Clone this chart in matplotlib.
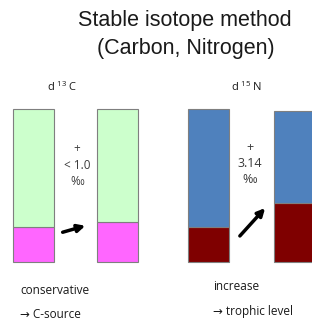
import matplotlib.pyplot as plt

# composition of each bar: lower (light isotope marker) fraction of total height
labels = ['d13C before', 'd13C after', 'd15N before', 'd15N after']
lower_frac = [0.23, 0.26, 0.23, 0.39]
upper_col = ['#ccffcc', '#ccffcc', '#4f81bd', '#4f81bd']
lower_col = ['#ff66ff', '#ff66ff', '#7f0000', '#7f0000']
shift_text = ['+\n< 1.0\n‰', '+\n3.14\n‰']
head_text = ['d $^{13}$ C', 'd $^{15}$ N']
note_text = [['conservative', '→ C-source'], ['increase', '→ trophic level']]

plt.rcParams['font.family'] = ['Open Sans', 'DejaVu Sans']
plt.rcParams['mathtext.fontset'] = 'custom'
plt.rcParams['mathtext.rm'] = 'Open Sans'

fig = plt.figure(figsize=(3.12, 3.22), dpi=100)
ax = fig.add_axes([0, 0, 1, 1])
ax.set_xlim(0, 312)
ax.set_ylim(0, 322)
ax.axis('off')

# bar geometry (pixel space, y up)
xs = [33.5, 117, 208.5, 294]
bottoms = [60, 60, 60, 60]
heights = [153, 153, 153, 151]
w = 41

for i in range(4):
    lo = heights[i] * lower_frac[i]
    ax.bar(xs[i], lo, w, bottom=bottoms[i], color=lower_col[i],
           edgecolor='#7f7f7f', lw=0.8)
    ax.bar(xs[i], heights[i] - lo, w, bottom=bottoms[i] + lo, color=upper_col[i],
           edgecolor='#7f7f7f', lw=0.8)

# arrows between bars
ax.annotate('', xy=(88, 97), xytext=(60, 89),
            arrowprops=dict(arrowstyle='-|>', color='black', lw=2.5, mutation_scale=11))
ax.annotate('', xy=(267, 116), xytext=(238, 84),
            arrowprops=dict(arrowstyle='-|>', color='black', lw=2.5, mutation_scale=11))

# shift labels
ax.text(77, 157, shift_text[0], ha='center', va='center', fontsize=8.5, color='#3a3a3a',
        linespacing=1.35)
ax.text(250, 159, shift_text[1], ha='center', va='center', fontsize=9, color='#3a3a3a',
        linespacing=1.3)

# title
ax.text(185, 302, 'Stable isotope method', ha='center', va='center', fontsize=15.5,
        family=['Liberation Sans', 'DejaVu Sans'], color='#1a1a1a')
ax.text(186, 274, '(Carbon, Nitrogen)', ha='center', va='center', fontsize=15.5,
        family=['Liberation Sans', 'DejaVu Sans'], color='#1a1a1a')

# isotope headings
ax.text(62, 235, head_text[0], ha='center', va='center', fontsize=8, color='#1a1a1a')
ax.text(247, 235, head_text[1], ha='center', va='center', fontsize=8, color='#1a1a1a')

# notes
ax.text(20, 31, note_text[0][0], ha='left', va='center', fontsize=8.5, color='#1a1a1a')
ax.text(20, 7, note_text[0][1], ha='left', va='center', fontsize=8.5, color='#1a1a1a')
ax.text(213, 36, note_text[1][0], ha='left', va='center', fontsize=8.5, color='#1a1a1a')
ax.text(213, 11, note_text[1][1], ha='left', va='center', fontsize=8.5, color='#1a1a1a')

fig.savefig('out.png', dpi=100)
